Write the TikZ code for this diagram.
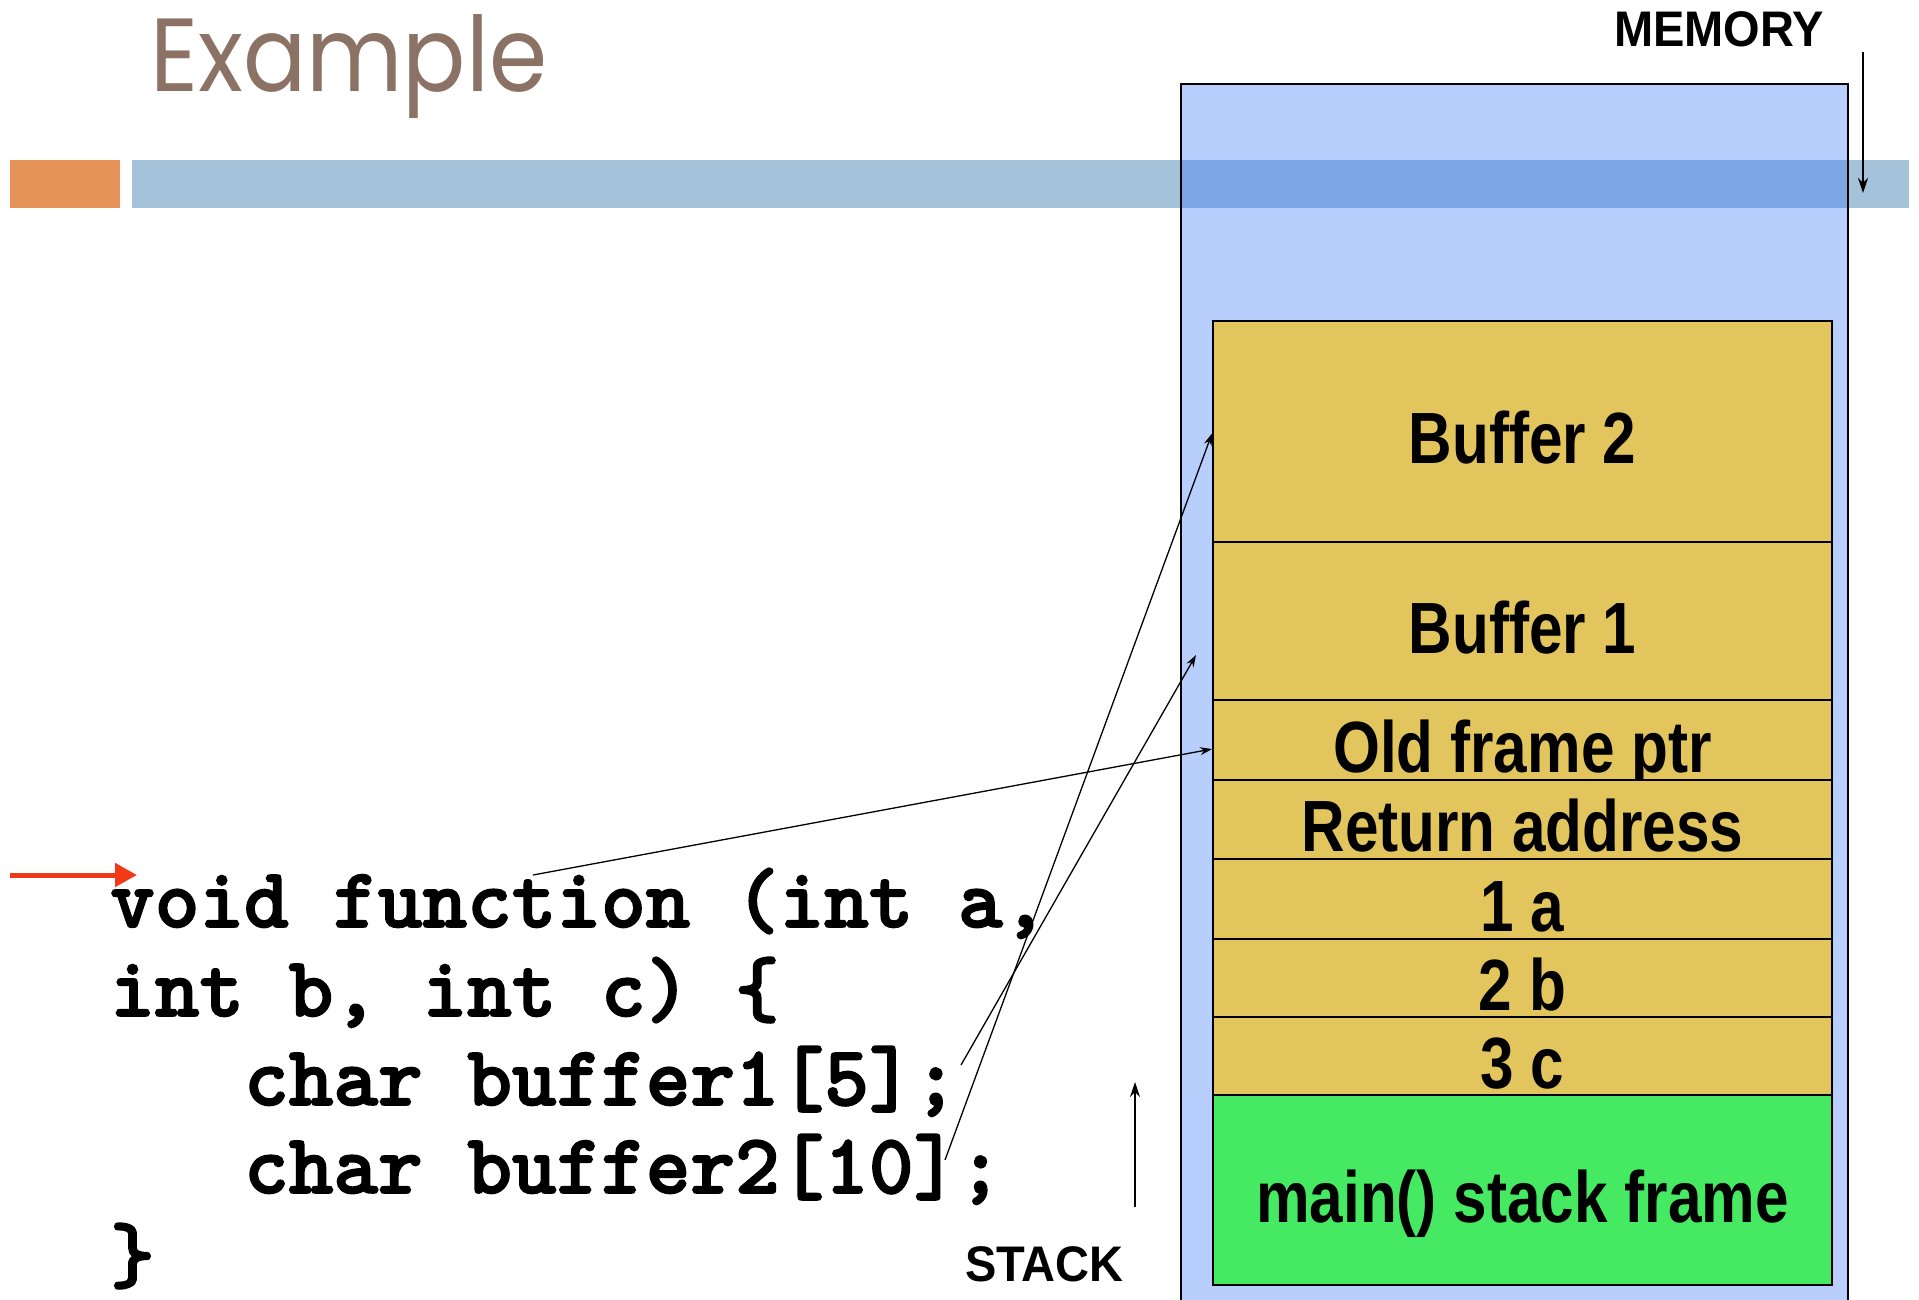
\documentclass[tikz,border=0pt]{standalone}
\usepackage{fontspec}
\setmainfont{Liberation Sans}
\newfontfamily\titlefont[FakeStretch=0.9]{Poppins}
\newfontfamily\cellfont[FakeStretch=0.83]{Liberation Sans}
\newfontfamily\labelfont[FakeStretch=0.94]{Liberation Sans}
\newfontfamily\codefont[FakeBold=2]{lmmonolt10-bold.otf}
\usetikzlibrary{arrows.meta,calc}

\definecolor{titlebrown}{RGB}{139,114,101}
\definecolor{accentorange}{RGB}{230,147,90}
\definecolor{barblue}{RGB}{165,194,219}
\definecolor{memblue}{RGB}{55,117,249}
\definecolor{frameyellow}{RGB}{227,197,94}
\definecolor{maingreen}{RGB}{69,233,98}
\definecolor{pointerred}{RGB}{240,58,23}

\tikzset{
  cell/.style={draw=black, line width=2pt, fill=frameyellow, minimum width=619pt,
    inner sep=0pt, text height=64pt, text depth=0pt,
    font=\cellfont\bfseries\fontsize{72.6}{80}\selectfont},
  codeline/.style={anchor=base west, inner sep=0pt,
    font=\codefont\fontsize{85}{90}\selectfont},
  caption/.style={anchor=base west, inner sep=0pt,
    font=\labelfont\bfseries\fontsize{50}{54}\selectfont},
  conn/.style={line width=1.3pt, -{Stealth[length=12pt,width=8pt]}},
  guide/.style={line width=1.5pt, -{Stealth[length=15pt,width=10pt]}},
}

\begin{document}
\begin{tikzpicture}[x=1pt,y=-1pt]
\useasboundingbox (0,0) rectangle (1919,1299);

% title bar
\fill[accentorange] (10,160) rectangle (120,208);
\fill[barblue] (132,160) rectangle (1909,208);
\node[anchor=base west, inner sep=0pt, text=titlebrown,
  font=\titlefont\fontsize{104}{110}\selectfont] (title) at (150,91) {Example};

% memory region
\path[fill=memblue, fill opacity=0.355, draw=black, line width=2.5pt]
  (1181,84) rectangle (1848,1330);
\node[caption] (memlabel) at (1614,46) {MEMORY};
\coordinate (memTail) at (1863,52);
\coordinate (memHead) at (1863,193);
\draw[guide] (memTail) -- (memHead);

% stack frames
\node[cell, minimum height=221pt] (buf2) at (1522.5,431.5) {Buffer 2};
\node[cell, minimum height=158pt] (buf1) at (1522.5,621) {Buffer 1};
\node[cell, minimum height=80pt] (ofp) at (1522.5,740) {Old frame ptr};
\node[cell, minimum height=79pt] (ret) at (1522.5,819.5) {Return address};
\node[cell, minimum height=80pt] (pa) at (1522.5,899) {1 a};
\node[cell, minimum height=78pt] (pb) at (1522.5,978) {2 b};
\node[cell, minimum height=78pt] (pc) at (1522.5,1056) {3 c};
\node[cell, minimum height=190pt, fill=maingreen] (mainf) at (1522.5,1190) {main() stack frame};

% stack direction
\node[caption] (stacklabel) at (965,1281) {STACK};
\coordinate (stackTail) at (1135,1207);
\coordinate (stackHead) at (1135,1082);
\draw[guide] (stackTail) -- (stackHead);

% source code
\node[codeline] (l1) at (110,927) {void function (int a,};
\node[codeline] (l2) at (110,1016) {int b, int c) \{};
\node[codeline] (l3) at (244,1105) {char buffer1[5];};
\node[codeline] (l4) at (244,1193) {char buffer2[10];};
\node[codeline] (l5) at (110,1282) {\}};

% current line marker
\coordinate (pcTail) at (10,875);
\coordinate (pcHead) at (137,875);
\draw[pointerred, line width=5pt, -{Triangle[length=22pt,width=23pt]}] (pcTail) -- (pcHead);

% variables to stack slots
\coordinate (fnTop) at (533,875);
\coordinate (b1End) at (961,1065);
\coordinate (b2End) at (945,1160);
\draw[conn] (fnTop) -- ($(ofp.west)+(0,9)$);
\draw[conn] (b1End) -- ($(buf1.west)+(-16,34)$);
\draw[conn] (b2End) -- ($(buf2.west)+(0,2)$);
\end{tikzpicture}
\end{document}
